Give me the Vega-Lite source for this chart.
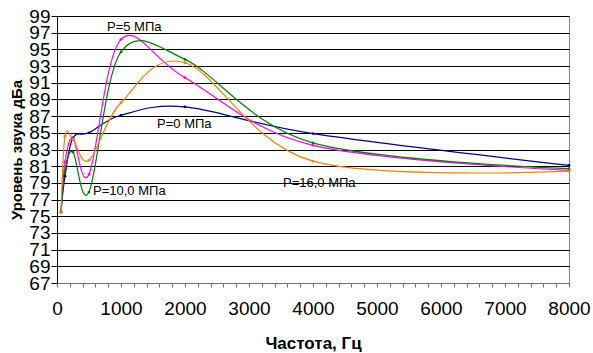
{
  "$schema": "https://vega.github.io/schema/vega-lite/v6.json",
  "width": 512,
  "height": 267,
  "autosize": {"type": "none"},
  "padding": {"left": 57, "top": 16, "right": 24, "bottom": 70},
  "background": "white",
  "config": {
    "font": "Liberation Sans",
    "view": {"stroke": "#808080", "strokeWidth": 1}
  },
  "datasets": {
    "series": [
      {"s": "P=0", "f": 63, "db": 75.5},
      {"s": "P=0", "f": 125, "db": 79.8},
      {"s": "P=0", "f": 250, "db": 84.4},
      {"s": "P=0", "f": 500, "db": 85.0},
      {"s": "P=0", "f": 1000, "db": 87.1},
      {"s": "P=0", "f": 2000, "db": 88.1},
      {"s": "P=0", "f": 4000, "db": 84.9},
      {"s": "P=0", "f": 8000, "db": 81.1},
      {"s": "P=5", "f": 63, "db": 75.5},
      {"s": "P=5", "f": 125, "db": 81.5},
      {"s": "P=5", "f": 250, "db": 84.3},
      {"s": "P=5", "f": 500, "db": 80.0},
      {"s": "P=5", "f": 1000, "db": 96.2},
      {"s": "P=5", "f": 2000, "db": 91.6},
      {"s": "P=5", "f": 4000, "db": 83.5},
      {"s": "P=5", "f": 8000, "db": 80.5},
      {"s": "P=10", "f": 63, "db": 75.5},
      {"s": "P=10", "f": 125, "db": 80.5},
      {"s": "P=10", "f": 250, "db": 82.7},
      {"s": "P=10", "f": 500, "db": 77.9},
      {"s": "P=10", "f": 1000, "db": 94.7},
      {"s": "P=10", "f": 2000, "db": 93.8},
      {"s": "P=10", "f": 4000, "db": 83.8},
      {"s": "P=10", "f": 8000, "db": 80.7},
      {"s": "P=16", "f": 63, "db": 75.5},
      {"s": "P=16", "f": 125, "db": 84.6},
      {"s": "P=16", "f": 250, "db": 84.2},
      {"s": "P=16", "f": 500, "db": 81.7},
      {"s": "P=16", "f": 1000, "db": 88.6},
      {"s": "P=16", "f": 2000, "db": 93.4},
      {"s": "P=16", "f": 4000, "db": 81.6},
      {"s": "P=16", "f": 8000, "db": 80.4}
    ],
    "labels": [
      {"t": "P=5 МПа", "f": 781, "db": 97.7},
      {"t": "P=0 МПа", "f": 1563, "db": 86.05},
      {"t": "P=10,0 МПа", "f": 563, "db": 78.0},
      {"t": "P=16,0 МПа", "f": 3531, "db": 79.0}
    ]
  },
  "encoding": {
    "x": {
      "field": "f", "type": "quantitative",
      "scale": {"domain": [0, 8000], "nice": false, "zero": false},
      "axis": {
        "title": "Частота, Гц",
        "titleFontSize": 17, "titleFontWeight": "bold", "titleColor": "#000",
        "titleBaseline": "middle", "titleY": 60,
        "values": [0,200,400,600,800,1000,1200,1400,1600,1800,2000,2200,2400,2600,2800,3000,3200,3400,3600,3800,4000,4200,4400,4600,4800,5000,5200,5400,5600,5800,6000,6200,6400,6600,6800,7000,7200,7400,7600,7800,8000],
        "format": "d",
        "labelExpr": "datum.value % 1000 === 0 ? datum.label : ''",
        "labelFontSize": 19, "labelColor": "#000", "labelPadding": 12,
        "labelOverlap": false, "labelFlush": false,
        "grid": false, "tickSize": 4, "tickColor": "#707070", "domainColor": "#707070"
      }
    },
    "y": {
      "field": "db", "type": "quantitative",
      "scale": {"domain": [67, 99], "nice": false, "zero": false},
      "axis": {
        "title": "Уровень звука дБа",
        "titleFontSize": 15, "titleFontWeight": "bold", "titleColor": "#000",
        "titleAngle": -90, "titleBaseline": "middle", "titleAlign": "center",
        "titleX": -41, "titleY": 133.5,
        "values": [67,69,71,73,75,77,79,81,83,85,87,89,91,93,95,97,99],
        "format": "d",
        "labelFontSize": 19, "labelColor": "#000", "labelPadding": 1,
        "labelOverlap": false, "labelFlush": false,
        "grid": true, "gridColor": "#000", "gridWidth": 1,
        "tickSize": 6, "tickColor": "#000", "domainColor": "#000"
      }
    }
  },
  "layer": [
    {
      "data": {"name": "series"},
      "mark": {"type": "line", "interpolate": "cardinal", "strokeWidth": 1.2, "clip": true},
      "encoding": {
        "color": {
          "field": "s", "type": "nominal",
          "scale": {"domain": ["P=0", "P=5", "P=10", "P=16"], "range": ["#000080", "#FF00FF", "#008000", "#FF8000"]},
          "legend": null
        }
      }
    },
    {
      "data": {"name": "series"},
      "mark": {"type": "point", "filled": true, "size": 8, "opacity": 1},
      "encoding": {
        "color": {"field": "s", "type": "nominal", "legend": null}
      }
    },
    {
      "data": {"name": "labels"},
      "mark": {"type": "text", "align": "left", "baseline": "middle", "fontSize": 13, "color": "#000"},
      "encoding": {
        "text": {"field": "t"}
      }
    }
  ]
}
